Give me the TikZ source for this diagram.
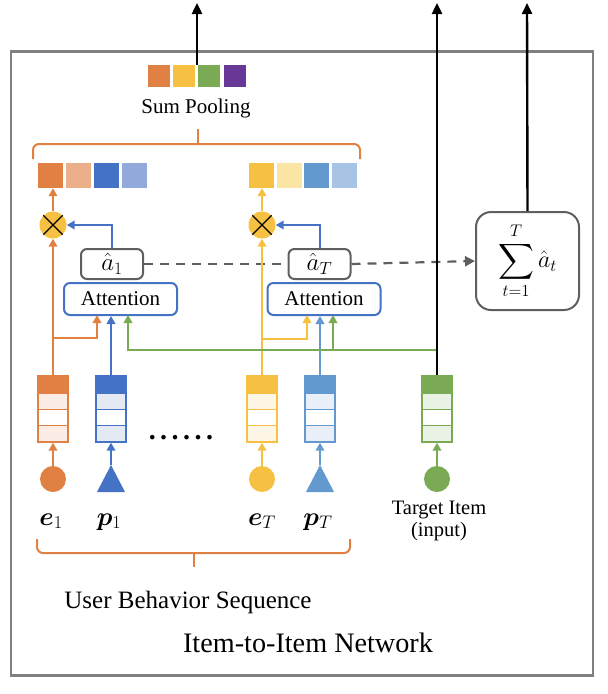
\RequirePackage{fix-cm}
\documentclass[tikz,border=0pt]{standalone}
\usepackage{fontspec}
\setmainfont{Liberation Serif}
\usepackage{amsmath,bm}
\usetikzlibrary{arrows.meta,calc}
\definecolor{corange}{RGB}{224,129,67}
\definecolor{clorange}{RGB}{235,176,138}
\definecolor{ctorange}{RGB}{251,236,229}
\definecolor{cblue}{RGB}{68,114,196}
\definecolor{clblue}{RGB}{146,169,219}
\definecolor{ctblue}{RGB}{228,233,244}
\definecolor{cyellow}{RGB}{246,192,66}
\definecolor{clyellow}{RGB}{250,229,165}
\definecolor{ctyellow}{RGB}{253,245,230}
\definecolor{cmblue}{RGB}{100,153,208}
\definecolor{clmblue}{RGB}{167,196,228}
\definecolor{ctmblue}{RGB}{232,239,248}
\definecolor{cgreen}{RGB}{122,170,83}
\definecolor{ctgreen}{RGB}{234,241,229}
\definecolor{cpurple}{RGB}{104,56,150}
\definecolor{cgray}{RGB}{128,128,128}
\definecolor{cdgray}{RGB}{95,95,95}
\newcommand\mystack[4]{%
  \fill[#4] (#2-15,393) rectangle (#2+15,442);
  \fill[white] (#2-15,409.3) rectangle (#2+15,425.6);
  \fill[#3] (#2-15,376) rectangle (#2+15,393);
  \draw[#3, line width=1.4pt] (#2-15,393) -- (#2+15,393) (#2-15,409.3) -- (#2+15,409.3) (#2-15,425.6) -- (#2+15,425.6);
  \node[draw=#3, line width=1.4pt, minimum width=30pt, minimum height=66pt, inner sep=0pt] (#1) at (#2,409) {};
}
\begin{document}
\begin{tikzpicture}[x=1pt,y=-1pt,
  attbox/.style={draw=cblue, line width=2pt, rounded corners=6pt, minimum width=113pt, minimum height=32pt, inner sep=0pt, font=\fontsize{21}{24}\selectfont},
  abox/.style={draw=cdgray, line width=2pt, rounded corners=6pt, minimum width=62pt, minimum height=30pt, inner sep=0pt, font=\fontsize{25}{28}\selectfont},
  sq/.style={minimum size=25pt, inner sep=0pt},
  psq/.style={minimum size=22pt, inner sep=0pt},
  arr/.style={line width=2pt, -{Triangle[length=8pt,width=8.5pt]}},
  karr/.style={line width=2.4pt, -{Triangle[length=11pt,width=10pt]}},
  dot/.style={circle, minimum size=26pt, inner sep=0pt},
  otim/.style={circle, fill=cyellow, minimum size=27pt, inner sep=0pt},
  lab/.style={font=\fontsize{21}{25}\selectfont, inner sep=0pt},
  mlab/.style={font=\fontsize{26}{30}\selectfont, inner sep=0pt, anchor=base}
]
\useasboundingbox (0,0) rectangle (608,694);
% outer frame
\node[draw=cgray, line width=2.5pt, minimum width=582pt, minimum height=624pt, inner sep=0pt] (frame) at (302,363.5) {};

% sum pooling squares
\node[psq, fill=corange] (p1) at (158.5,76) {};
\node[psq, fill=cyellow] (p2) at (183.5,76) {};
\node[psq, fill=cgreen] (p3) at (209,76) {};
\node[psq, fill=cpurple] (p4) at (234.5,76) {};
\coordinate (pooltop) at (197,65);
\coordinate (out1) at (197,3);
\draw[karr] (pooltop) -- (out1);
\node[lab, anchor=base] (sumlab) at (196,113) {Sum Pooling};

% top brace
\draw[corange, line width=2pt, rounded corners=6pt] (33,159) -- (33,144) -- (360,144) -- (360,159);
\draw[corange, line width=2pt] (198,144) -- (198,129);

% weighted rows
\node[sq, fill=corange] (r1) at (50.5,175.5) {};
\node[sq, fill=clorange] (r2) at (78.5,175.5) {};
\node[sq, fill=cblue] (r3) at (106,175.5) {};
\node[sq, fill=clblue] (r4) at (134,175.5) {};
\node[sq, fill=cyellow] (r5) at (261.5,175.5) {};
\node[sq, fill=clyellow] (r6) at (289,175.5) {};
\node[sq, fill=cmblue] (r7) at (316.5,175.5) {};
\node[sq, fill=clmblue] (r8) at (344,175.5) {};

% multiply nodes
\node[otim] (x1) at (53,225) {};
\draw[line width=1.4pt] (x1.north west) -- (x1.south east) (x1.north east) -- (x1.south west);
\node[otim] (xT) at (262,225) {};
\draw[line width=1.4pt] (xT.north west) -- (xT.south east) (xT.north east) -- (xT.south west);
\draw[arr, corange] (x1.north) -- (x1.north |- r1.south);
\draw[arr, cyellow] (xT.north) -- (xT.north |- r5.south);

% attention weights
\node[abox] (a1) at (112,264) {$\hat{a}_1$};
\node[abox] (aT) at (319.5,264) {$\hat{a}_T$};
\node[attbox] (att1) at (120.5,299) {Attention};
\node[attbox] (attT) at (324,299) {Attention};
\draw[arr, cblue] (a1.north) |- (x1.east);
\draw[arr, cblue] (aT.north) |- (xT.east);

% sum box
\node[draw=cdgray, line width=2pt, rounded corners=15pt, minimum width=103pt, minimum height=98pt, inner sep=0pt, font=\fontsize{24}{28}\selectfont] (sumbox) at (527.5,261) {$\displaystyle\sum_{t=1}^{T}\hat{a}_t$};
\coordinate (out3) at (527,3);
\draw[karr] (sumbox.north) -- (out3);

% dashed
\draw[cdgray, line width=2.2pt, dash pattern=on 9pt off 7pt] (a1.east) -- (aT.west);
\draw[cdgray, line width=2.2pt, dash pattern=on 9pt off 7pt, -{Triangle[length=10pt,width=10pt]}] (aT.east) -- (sumbox.west);

% stacks
\mystack{s1}{53}{corange}{ctorange}
\mystack{s2}{111}{cblue}{ctblue}
\mystack{s3}{262}{cyellow}{ctyellow}
\mystack{s4}{320}{cmblue}{ctmblue}
\mystack{s5}{437}{cgreen}{ctgreen}

% inputs
\node[dot, fill=corange] (c1) at (53,479) {};
\node[dot, fill=cyellow] (c3) at (262,479) {};
\node[dot, fill=cgreen] (c5) at (437,479) {};
\fill[cblue] (97,492) -- (111,465) -- (125,492) -- cycle;
\coordinate (t2) at (111,465);
\fill[cmblue] (306,492) -- (320,465) -- (334,492) -- cycle;
\coordinate (t4) at (320,465);
\draw[arr, corange] (c1.north) -- (s1.south);
\draw[arr, cblue] (t2) -- (s2.south);
\draw[arr, cyellow] (c3.north) -- (s3.south);
\draw[arr, cmblue] (t4) -- (s4.south);
\draw[arr, cgreen] (c5.north) -- (s5.south);

\node[inner sep=0pt, font=\fontsize{28}{28}\selectfont\bfseries] (dots) at (181,438) {.\kern4.5pt.\kern4.5pt.\kern4.5pt.\kern4.5pt.\kern4.5pt.};

% labels
\node[mlab] (le1) at (51,525) {$\bm{e}_1$};
\node[mlab] (lp1) at (109,525) {$\bm{p}_1$};
\node[mlab] (leT) at (262,525) {$\bm{e}_T$};
\node[mlab] (lpT) at (318,525) {$\bm{p}_T$};
\node[lab, anchor=base, font=\fontsize{20.5}{24}\selectfont] (tgt) at (439,514) {Target Item};
\node[lab, anchor=base, font=\fontsize{20.5}{24}\selectfont] (tgt2) at (439,536) {(input)};

% vertical connections
\draw[arr, corange] (s1.north) -- (x1.south);
\draw[arr, cyellow] (s3.north) -- (xT.south);
\coordinate (b1) at (53,338);
\coordinate (b1e) at (97,315);
\draw[arr, corange] (b1) -| (b1e);
\coordinate (b3) at (262,339);
\coordinate (b3e) at (307,315);
\draw[arr, cyellow] (b3) -| (b3e);
\draw[arr, cblue] (s2.north) -- (s2.north |- att1.south);
\draw[arr, cmblue] (s4.north) -- (s4.north |- attT.south);
\coordinate (gj) at (437,350);
\coordinate (g1) at (128,315);
\coordinate (gT) at (333,315);
\coordinate (gTb) at (333,350);
\draw[arr, cgreen] (gj) -| (g1);
\draw[arr, cgreen] (gTb) -- (gT);
\coordinate (out2) at (437,3);
\draw[karr] (s5.north) -- (out2);

% bottom brace
\draw[corange, line width=2pt, rounded corners=6pt] (37,539) -- (37,553) -- (350,553) -- (350,539);
\draw[corange, line width=2pt] (194,553) -- (194,567);
\node[lab, anchor=base, font=\fontsize{25}{30}\selectfont] (ubs) at (188,608) {User Behavior Sequence};
\node[lab, anchor=base, font=\fontsize{28.2}{33}\selectfont] (i2i) at (308,652) {Item-to-Item Network};
\end{tikzpicture}
\end{document}
